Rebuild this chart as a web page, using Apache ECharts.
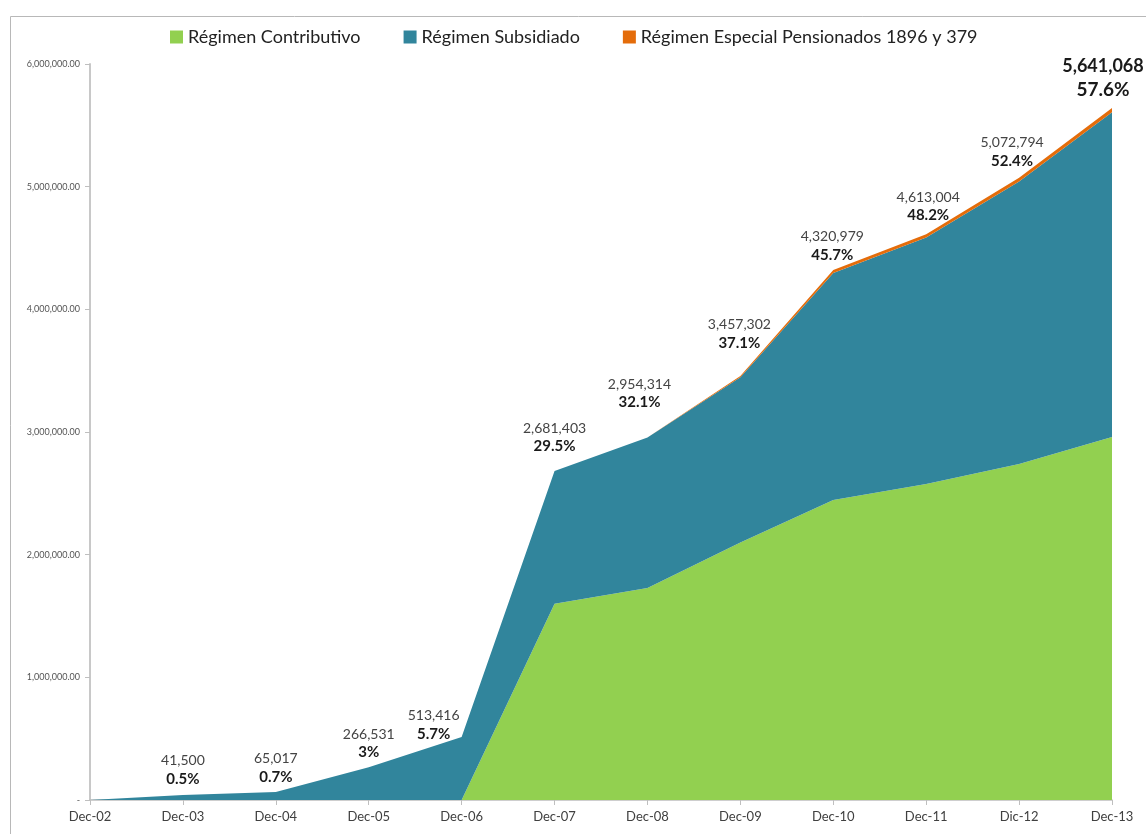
<!DOCTYPE html>
<html lang="es">
<head>
  <meta charset="UTF-8" />
  <title>Afiliados por régimen</title>
  <script src="https://cdn.jsdelivr.net/npm/echarts@6.0.0/dist/echarts.min.js"></script>
  <style>
    body { margin: 0; background: #fff; }
    #chart { width: 1146px; height: 834px; }
  </style>
</head>
<body>
  <div id="chart"></div>
  <script>
    const periods = ['Dec-02', 'Dec-03', 'Dec-04', 'Dec-05', 'Dec-06', 'Dec-07', 'Dec-08', 'Dec-09', 'Dec-10', 'Dec-11', 'Dic-12', 'Dec-13'];
    const contributivo = [0, 0, 0, 0, 0, 1600000, 1728000, 2100000, 2445000, 2576000, 2740000, 2960000];
    const subsidiado = [0, 41500, 65017, 266531, 513416, 1081403, 1226314, 1347302, 1850979, 2009004, 2302794, 2646068];
    const especial = [0, 0, 0, 0, 0, 0, 0, 10000, 25000, 28000, 30000, 35000];
    const totals = ['', '41,500', '65,017', '266,531', '513,416', '2,681,403', '2,954,314', '3,457,302', '4,320,979', '4,613,004', '5,072,794', '5,641,068'];
    const percents = ['', '0.5%', '0.7%', '3%', '5.7%', '29.5%', '32.1%', '37.1%', '45.7%', '48.2%', '52.4%', '57.6%'];

    // label nudges so the texts sit where the original had them
    const labelShift = [[0, 0], [0, -1], [0, 0], [0, 0], [-28, 12], [0, -10], [-8, -20], [-1, -18], [-1, 0], [2, -4], [-7, -2], [-9, 0]];

    const font = 'Lato, "Open Sans", sans-serif';

    const labelData = especial.map((v, i) => {
      const last = i === especial.length - 1;
      return {
        value: v,
        label: {
          show: totals[i] !== '',
          formatter: last ? '{bv|' + totals[i] + '}\n{bp|' + percents[i] + '}' : '{v|' + totals[i] + '}\n{p|' + percents[i] + '}'
        }
      };
    });

    const chart = echarts.init(document.getElementById('chart'));
    chart.setOption({
      animation: false,
      textStyle: { fontFamily: font },
      graphic: [{
        type: 'rect', left: 8, top: 14,
        shape: { width: 1200, height: 900 },
        style: { fill: 'none', stroke: '#b8b8b8', lineWidth: 1 },
        silent: true
      }],
      legend: {
        top: 23, left: 165,
        itemWidth: 13, itemHeight: 13, itemGap: 43,
        icon: 'rect',
        textStyle: { fontSize: 18, color: '#222', fontFamily: font },
        data: ['Régimen Contributivo', 'Régimen Subsidiado', 'Régimen Especial Pensionados 1896 y 379']
      },
      grid: { left: 90, right: 34, top: 64, bottom: 34 },
      xAxis: {
        type: 'category',
        data: periods,
        boundaryGap: false,
        axisLine: { lineStyle: { color: '#bfbfbf', width: 1.5 } },
        axisTick: { show: true, length: 5, alignWithLabel: true, lineStyle: { color: '#bfbfbf' } },
        axisLabel: { color: '#404040', fontSize: 13, margin: 10, fontFamily: font }
      },
      yAxis: {
        type: 'value',
        min: 0, max: 6000000, interval: 1000000,
        axisLine: { show: true, lineStyle: { color: '#c8c8c8', width: 2 } },
        axisTick: { show: true, length: 5, lineStyle: { color: '#bfbfbf' } },
        splitLine: { show: false },
        axisLabel: {
          color: '#555', fontSize: 9, margin: 10, fontFamily: font,
          formatter: v => v === 0 ? '-' : v.toLocaleString('en-US', { minimumFractionDigits: 2 })
        }
      },
      series: [
        {
          name: 'Régimen Contributivo', type: 'line', stack: 'total',
          data: contributivo, symbol: 'none',
          lineStyle: { width: 0 },
          areaStyle: { color: '#92D050', opacity: 1 },
          itemStyle: { color: '#92D050' }
        },
        {
          name: 'Régimen Subsidiado', type: 'line', stack: 'total',
          data: subsidiado, symbol: 'none',
          lineStyle: { width: 0 },
          areaStyle: { color: '#31859C', opacity: 1 },
          itemStyle: { color: '#31859C' }
        },
        {
          name: 'Régimen Especial Pensionados 1896 y 379', type: 'line', stack: 'total',
          data: labelData, symbol: 'circle', symbolSize: 0.1, showSymbol: true, showAllSymbol: true,
          lineStyle: { width: 0 },
          areaStyle: { color: '#E46C0A', opacity: 1 },
          itemStyle: { color: '#E46C0A' },
          label: {
            show: true, position: 'top', distance: 6, align: 'center',
            rich: {
              v: { fontSize: 14, color: '#444', fontFamily: font, lineHeight: 18, align: 'center' },
              p: { fontSize: 15, color: '#1a1a1a', fontWeight: 'bold', fontFamily: font, lineHeight: 18, align: 'center' },
              bv: { fontSize: 18, color: '#1a1a1a', fontWeight: 'bold', fontFamily: font, lineHeight: 24, align: 'center' },
              bp: { fontSize: 19, color: '#1a1a1a', fontWeight: 'bold', fontFamily: font, lineHeight: 24, align: 'center' }
            }
          },
          labelLayout: p => ({ dx: labelShift[p.dataIndex][0], dy: labelShift[p.dataIndex][1], hideOverlap: false })
        }
      ]
    });
  </script>
</body>
</html>
